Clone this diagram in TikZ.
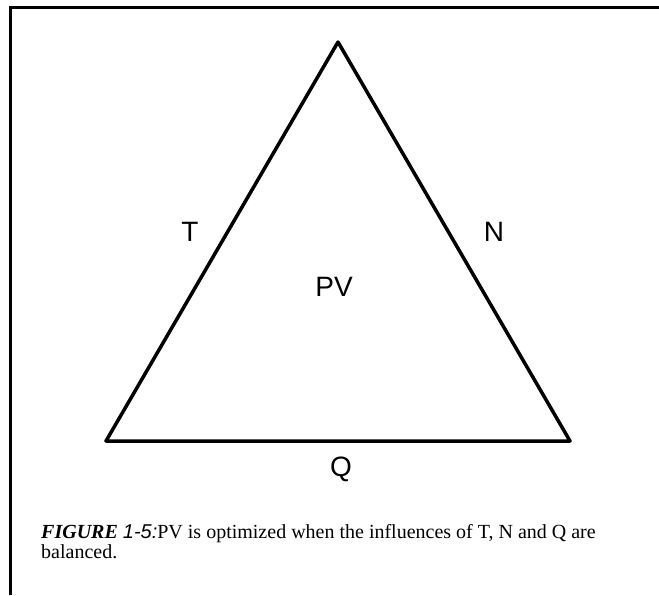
\documentclass[tikz,border=0pt]{standalone}
\usepackage{fontspec}
\setmainfont{Liberation Serif}
\newfontfamily\labfont{Liberation Sans}
\usetikzlibrary{positioning}
\tikzset{
  side/.style={line width=3.5pt, line join=round, line cap=round},
  frame/.style={line width=3.5pt},
  lab/.style={font=\labfont\fontsize{28}{30}\selectfont, inner sep=0pt},
  capt/.style={font=\fontsize{20}{21}\selectfont, inner sep=0pt, anchor=base west}
}

\begin{document}
\begin{tikzpicture}[x=1pt, y=-1pt]
		\useasboundingbox (0,0) rectangle (659,595);
		% frame of the figure
		\coordinate (ftr) at (659,7.5);
		\coordinate (ftl) at (10.5,7.5);
		\coordinate (fbl) at (10.5,595);
		\draw[frame] (ftr) -- (ftl) -- (fbl);
		% the triangle
		\coordinate (apex) at (338,42);
		\coordinate (bl) at (106,441);
		\coordinate (br) at (570,441);
		\draw[side] (apex) -- (bl) -- (br) -- cycle;
		\node[lab] (t) at (190,232) {T};
		\node[lab] (n) at (494,232) {N};
		\node[lab] (pv) at (334,287) {PV};
		\node[lab] (q) at (341,469) {Q};
		% caption
		\node[capt] (cap1) at (41,538) {\textbf{\textit{FIGURE}} {\labfont\itshape 1-5:}PV is optimized when the influences of T, N and Q are};
		\node[capt] (cap2) at (41,558) {balanced.};
	\end{tikzpicture}
\end{document}
